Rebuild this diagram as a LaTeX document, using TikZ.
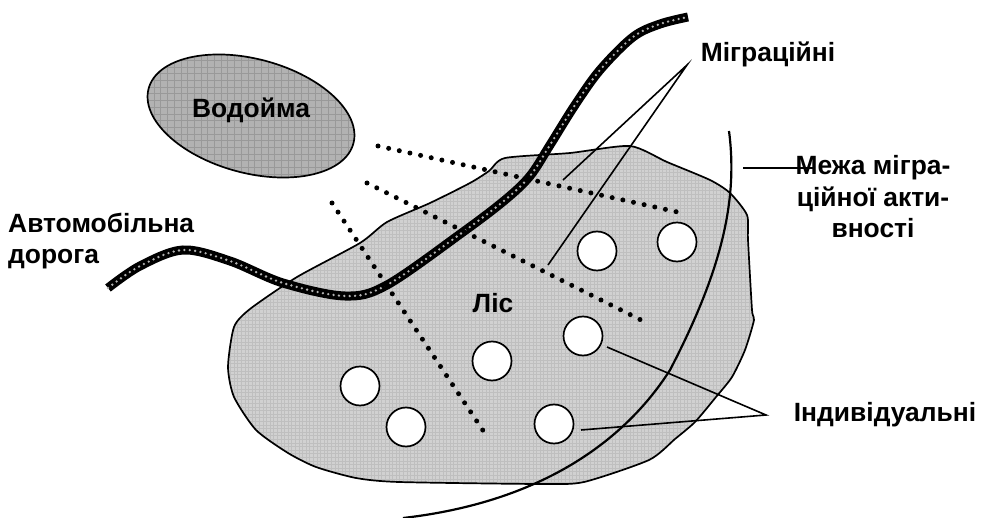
\documentclass[tikz,border=0pt]{standalone}
\usepackage{fontspec}
\setmainfont{Liberation Sans}
\tikzset{
  lbl/.style={font=\fontsize{26.4}{31.5}\selectfont\bfseries,inner sep=0pt,align=center},
  outline/.style={draw=black,line width=1.7pt},
  hole/.style={circle,draw=black,line width=1.7pt,fill=white,minimum size=39pt,inner sep=0pt},
  leader/.style={draw=black,line width=1.6pt},
  dotline/.style={draw=black,line width=5pt,line cap=round,dash pattern=on 0pt off 10.9pt},
  roadbase/.style={draw=black,line width=9pt},
  roaddots/.style={draw=white!70!black,line width=2.6pt,line cap=round,dash pattern=on 0pt off 5.4pt},
}
\def\forestpath{plot[smooth cycle,tension=0.4] coordinates {(250,309)(297,277)(360,243)(387,222)(430,203)(470,183)(489,171)(505,158)(570,153)(630,146)(667,162)(710,180)(730,193)(747,215)(748,240)(752,310)(754,320)(745,350)(732,377)(716,397)(695,422)(675,439)(649,460)(584,482)(541,484)(399,482)(356,478)(316,467)(288,453)(256,430)(234,397)(228,367)(234,327)}}
\def\roadpath{plot[smooth,tension=0.55] coordinates {(108,288)(140,266)(183,250)(230,261)(283,283)(345,296)(387,285)(463,232)(505,200)(530,176)(550,145)(575,105)(600,70)(633,37)(660,24)(688,17)}}
\def\lakeshape{(0,0) ellipse [x radius=106pt,y radius=57pt]}
\begin{document}
\begin{tikzpicture}[x=1pt,y=-1pt]
\useasboundingbox (0,0) rectangle (981,518);
% forest
\fill[fill=white!82!black] \forestpath;
\begin{scope}
\clip \forestpath;
\draw[white!75!black,line width=0.6pt,step=3.6pt] (220,140) grid (760,490);
\end{scope}
\draw[outline] \forestpath;
% lake
\begin{scope}[shift={(251,116)},rotate=-15]
\fill[white!70!black] \lakeshape;
\end{scope}
\begin{scope}
\clip[shift={(251,116)},rotate=-15] \lakeshape;
\draw[white!60!black,line width=0.7pt,step=6.7pt] (140,50) grid (360,185);
\end{scope}
\draw[outline,shift={(251,116)},rotate=-15] \lakeshape;
% road
\draw[roadbase] \roadpath;
\draw[roaddots] \roadpath;
% dotted paths
\coordinate (d1a) at (378,146); \coordinate (d1b) at (682,213);
\coordinate (d2a) at (367,183); \coordinate (d2b) at (645,322);
\coordinate (d3a) at (332,203); \coordinate (d3b) at (486,435);
\draw[dotline] (d1a) -- (d1b);
\draw[dotline] (d2a) -- (d2b);
\draw[dotline] (d3a) -- (d3b);
% migration boundary
\coordinate (edgeTop) at (729,131);
\coordinate (edgeEnd) at (403,518);
\draw[draw=black,line width=2.2pt] (edgeTop) .. controls (738,200) and (722,270) .. (670,370) .. controls (635,425) and (560,500) .. (edgeEnd);
% settlements
\node[hole] (h1) at (597,251) {};
\node[hole] (h2) at (677,242) {};
\node[hole] (h3) at (583,336) {};
\node[hole] (h4) at (492,361) {};
\node[hole] (h5) at (360,386) {};
\node[hole] (h6) at (406,427) {};
\node[hole] (h7) at (554,424) {};
% labels
\node[lbl] (lake) at (251,110) {Водойма};
\node[lbl,anchor=west,align=left] (road) at (8,241) {Автомобільна\\дорога};
\node[lbl] (forest) at (493,303) {Ліс};
\node[lbl] (migr) at (768,54) {Міграційні};
\node[lbl] (indiv) at (885,415) {Індивідуальні};
% leaders
\coordinate (mfork) at (687,65);
\coordinate (m1) at (563,180);
\coordinate (m2) at (548,265);
\coordinate (ifork) at (766,415);
\coordinate (i1) at (607,347);
\coordinate (i2) at (581,430);
\coordinate (bfrom) at (743,168);
\coordinate (bto) at (815,168);
\draw[leader] (m1) -- (mfork) -- (m2);
\draw[leader] (i1) -- (ifork) -- (i2);
\draw[leader] (bfrom) -- (bto);
\node[lbl] (limit) at (873,197) {Межа мігра-\\ційної акти-\\вності};
\end{tikzpicture}
\end{document}
